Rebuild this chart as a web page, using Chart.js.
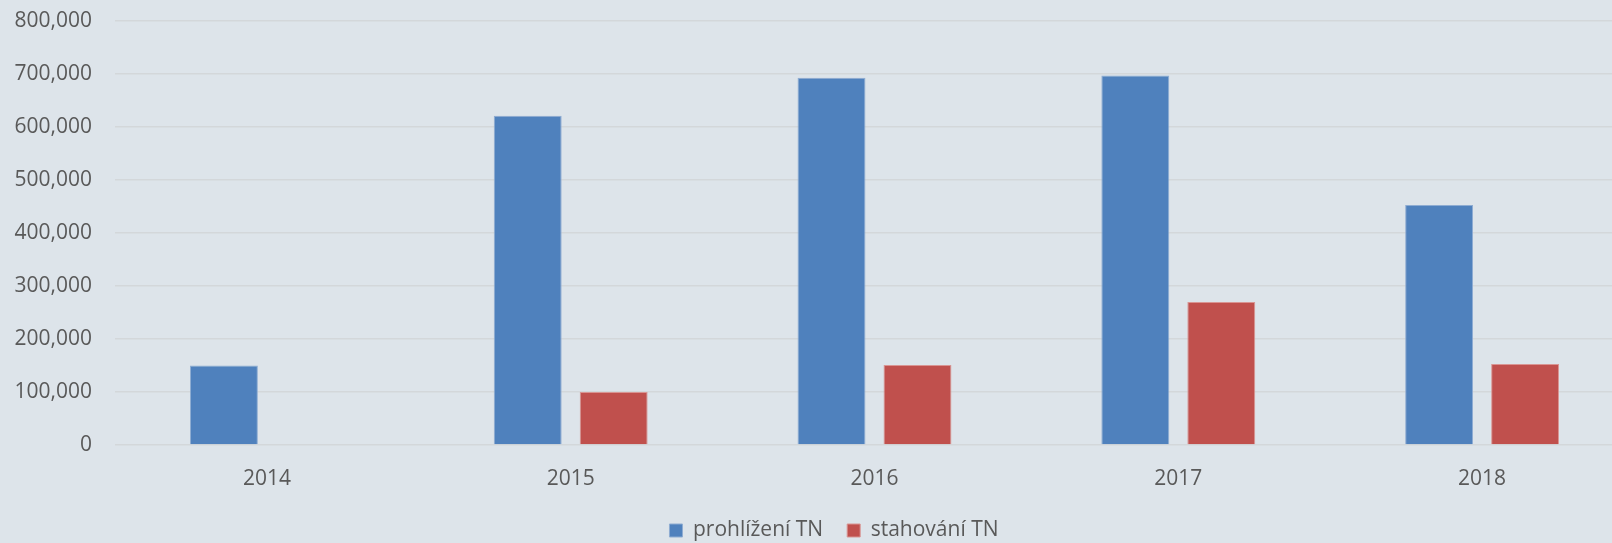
<!DOCTYPE html>
<html lang="cs">
  <head>
    <meta charset="utf-8">
    <title>prohlížení a stahování TN</title>
    <style>
      html, body { margin: 0; padding: 0; background: #dde4ea; overflow: hidden; }
      #wrap { width: 1660px; height: 543px; position: relative; }
    </style>
  </head>
  <body>
    <div id="wrap">
      <canvas id="chart"></canvas>
    </div>
    <script src="https://cdn.jsdelivr.net/npm/chart.js@4.4.1/dist/chart.umd.min.js"></script>
    <script>
      const years = ['2014', '2015', '2016', '2017', '2018'];
      const prohlizeni = [150000, 621000, 693000, 697000, 453000];
      const stahovani = [null, 100000, 151000, 270000, 153000];
      const yTicks = [0, 100000, 200000, 300000, 400000, 500000, 600000, 700000, 800000];

      const textColor = '#595959';
      const fontSpec = { family: 'Open Sans', size: 21 };

      // nudge the legend a little to the right, like the original
      const legendShift = {
        id: 'legendShift',
        afterLayout(chart) {
          chart.legend.left += 10;
          chart.legend.right += 10;
        }
      };

      const ctx = document.getElementById('chart').getContext('2d');
      const chart = new Chart(ctx, {
        type: 'bar',
        data: {
          labels: years,
          datasets: [
            {
              label: 'prohlížení TN',
              data: prohlizeni,
              backgroundColor: '#4f81bd',
              borderColor: '#8eacd2',
              borderWidth: 1
            },
            {
              label: 'stahování TN',
              data: stahovani,
              backgroundColor: '#c0504d',
              borderColor: '#d99593',
              borderWidth: 1
            }
          ]
        },
        options: {
          responsive: true,
          maintainAspectRatio: false,
          animation: false,
          categoryPercentage: 0.566,
          barPercentage: 0.79,
          layout: { padding: { left: 14, right: 26, top: 21, bottom: -8 } },
          font: fontSpec,
          color: textColor,
          scales: {
            x: {
              grid: { display: false, drawTicks: false },
              border: { display: false },
              ticks: { color: textColor, font: fontSpec, padding: 21 },
              afterFit: axis => { axis.height = 51; }
            },
            y: {
              min: 0,
              max: 800000,
              afterBuildTicks: axis => { axis.ticks = yTicks.map(v => ({ value: v })); },
              grid: { color: '#d3d7da', lineWidth: 1.5, drawTicks: false },
              border: { display: false },
              ticks: {
                color: textColor,
                font: fontSpec,
                padding: 23,
                callback: v => v.toLocaleString('en-US')
              },
              afterFit: axis => {
                axis.width = 101;
                axis.paddingTop = 0;
                axis.paddingBottom = 0;
              }
            }
          },
          plugins: {
            legend: {
              position: 'bottom',
              labels: {
                color: textColor,
                font: fontSpec,
                boxWidth: 13,
                boxHeight: 13,
                padding: 24
              }
            },
            tooltip: { enabled: false }
          }
        },
        plugins: [legendShift]
      });
    </script>
  </body>
</html>
